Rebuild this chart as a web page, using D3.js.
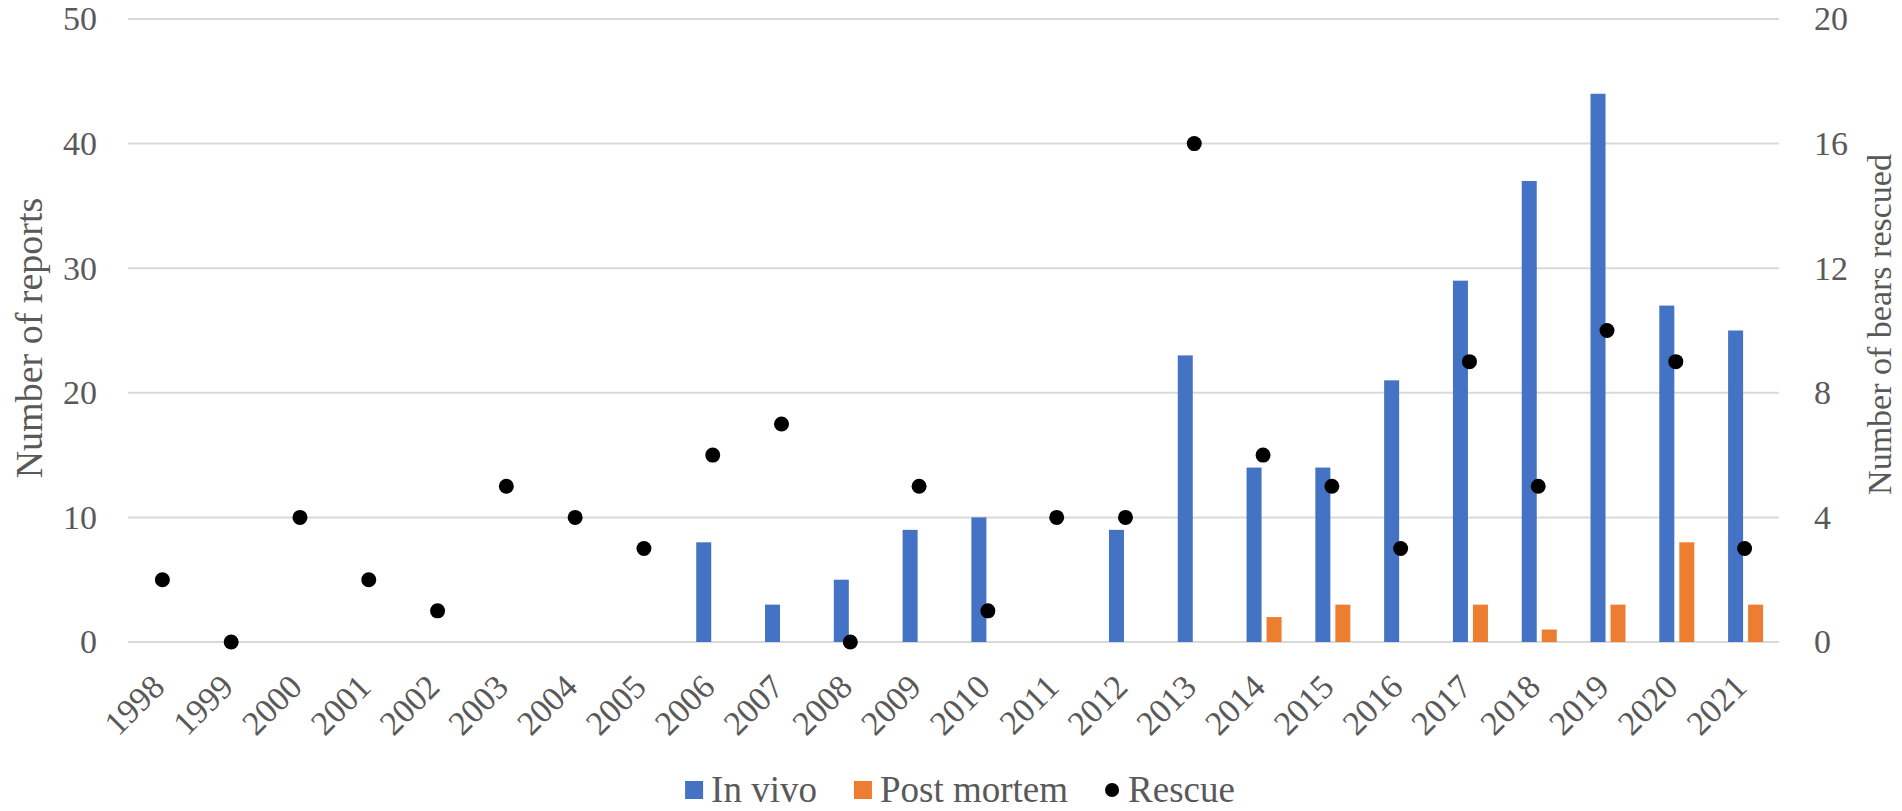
<!DOCTYPE html>
<html>
<head>
<meta charset="utf-8">
<script src="https://cdn.jsdelivr.net/npm/d3@7"></script>
<style>
  html, body { margin: 0; padding: 0; background: #fff; }
  text { font-family: "Liberation Serif", "Times New Roman", serif; fill: #595959; }
</style>
</head>
<body>
<div id="chart"></div>
<script>
// data
const years = ["1998", "1999", "2000", "2001", "2002", "2003", "2004", "2005", "2006", "2007", "2008", "2009",
  "2010", "2011", "2012", "2013", "2014", "2015", "2016", "2017", "2018", "2019", "2020", "2021"];
const inVivo = [0, 0, 0, 0, 0, 0, 0, 0, 8, 3, 5, 9, 10, 0, 9, 23, 14, 14, 21, 29, 37, 44, 27, 25];
const postMortem = [0, 0, 0, 0, 0, 0, 0, 0, 0, 0, 0, 0, 0, 0, 0, 0, 2, 3, 0, 3, 1, 3, 8, 3];
const rescue = [2, 0, 4, 2, 1, 5, 4, 3, 6, 7, 0, 5, 1, 4, 4, 16, 6, 5, 3, 9, 5, 10, 9, 3];
const leftTicks = [0, 10, 20, 30, 40, 50];
const rightTicks = [0, 4, 8, 12, 16, 20];

const seriesKeys = ["inVivo", "postMortem"];
const seriesLabels = { inVivo: "In vivo", postMortem: "Post mortem" };
const colors = { inVivo: "#4472C4", postMortem: "#ED7D31" };

const width = 1902, height = 811;
const margin = { top: 19, right: 123, bottom: 169, left: 128 };
const innerW = width - margin.left - margin.right;
const innerH = height - margin.top - margin.bottom;
const fontSize = 34;

const rows = years.map((y, i) => ({ year: y, inVivo: inVivo[i], postMortem: postMortem[i], rescue: rescue[i] }));

const svg = d3.select("#chart").append("svg")
  .attr("width", width)
  .attr("height", height);

const g = svg.append("g").attr("transform", `translate(${margin.left},${margin.top})`);

const x = d3.scaleBand().domain(years).range([0, innerW]).padding(0);
// the two bars sit just right of the band centre, like the excel original
const bw = x.bandwidth();
const x1 = d3.scaleBand().domain(seriesKeys)
  .range([bw / 2 - 16.5, bw / 2 + 18.5]).paddingInner(0.25);

const yL = d3.scaleLinear().domain([0, 50]).range([innerH, 0]);
const yR = d3.scaleLinear().domain([0, 20]).range([innerH, 0]);

// gridlines
g.append("g").selectAll("line").data(leftTicks).join("line")
  .attr("x1", 0).attr("x2", innerW)
  .attr("y1", d => yL(d)).attr("y2", d => yL(d))
  .attr("stroke", "#d9d9d9").attr("stroke-width", 2);

// left axis
const axL = g.append("g").call(d3.axisLeft(yL).tickValues(leftTicks).tickSize(0).tickPadding(31));
axL.select(".domain").remove();
axL.selectAll("text").style("font-size", fontSize + "px").attr("fill", "#595959")
  .style("font-family", "Liberation Serif");

// right axis
const axR = g.append("g").attr("transform", `translate(${innerW},0)`)
  .call(d3.axisRight(yR).tickValues(rightTicks).tickSize(0).tickPadding(35));
axR.select(".domain").remove();
axR.selectAll("text").style("font-size", fontSize + "px").attr("fill", "#595959")
  .style("font-family", "Liberation Serif");

// bars
const groups = g.append("g").selectAll("g").data(rows).join("g")
  .attr("transform", d => `translate(${x(d.year)},0)`);

groups.selectAll("rect")
  .data(d => seriesKeys.map(k => ({ key: k, value: d[k] })).filter(v => v.value > 0))
  .join("rect")
  .attr("x", d => x1(d.key))
  .attr("width", x1.bandwidth())
  .attr("y", d => yL(d.value))
  .attr("height", d => yL(0) - yL(d.value))
  .attr("fill", d => colors[d.key]);

// rescue dots
g.append("g").selectAll("circle").data(rows).join("circle")
  .attr("cx", d => x(d.year) + bw / 2)
  .attr("cy", d => yR(d.rescue))
  .attr("r", 7.5)
  .attr("fill", "#000");

// x labels, rotated
g.append("g").selectAll("text").data(years).join("text")
  .attr("transform", d => `translate(${x(d) + bw / 2 + 4},${innerH + 47}) rotate(-45)`)
  .attr("text-anchor", "end")
  .style("font-size", fontSize + "px")
  .text(d => d);

// axis titles
svg.append("text")
  .attr("transform", `translate(42,338) rotate(-90)`)
  .attr("text-anchor", "middle")
  .style("font-size", "38px")
  .text("Number of reports");

svg.append("text")
  .attr("transform", `translate(1891,${margin.top + innerH / 2 - 6}) rotate(-90)`)
  .attr("text-anchor", "middle")
  .style("font-size", fontSize + "px")
  .text("Number of bears rescued");

// legend
const legend = svg.append("g");
const legendItems = [
  { label: seriesLabels.inVivo, type: "rect", color: colors.inVivo },
  { label: seriesLabels.postMortem, type: "rect", color: colors.postMortem },
  { label: "Rescue", type: "dot", color: "#000" }
];
const baseline = 802;
let cursor = 0;
legendItems.forEach((it, i) => {
  const item = legend.append("g");
  if (it.type === "rect") {
    item.append("rect").attr("x", cursor).attr("y", baseline - 21).attr("width", 18).attr("height", 18)
      .attr("fill", it.color);
    cursor += 18 + 8;
  } else {
    item.append("circle").attr("cx", cursor + 7).attr("cy", baseline - 12).attr("r", 7).attr("fill", it.color);
    cursor += 14 + 9;
  }
  const t = item.append("text").attr("x", cursor).attr("y", baseline)
    .style("font-size", "37px").text(it.label);
  cursor += t.node().getComputedTextLength();
  if (i < legendItems.length - 1) cursor += 37;
});
const legendCenter = 960;
legend.attr("transform", `translate(${legendCenter - cursor / 2},0)`);
</script>
</body>
</html>
